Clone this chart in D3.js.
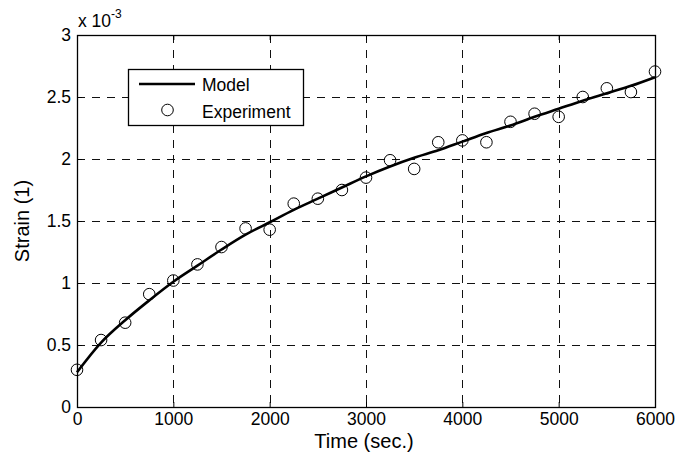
<!DOCTYPE html>
<html>
<head>
<meta charset="utf-8">
<script src="https://cdn.jsdelivr.net/npm/d3@7"></script>
<style>
  html, body { margin: 0; padding: 0; background: #fff; }
  svg { display: block; font-family: "Liberation Sans", Arial, sans-serif; }
</style>
</head>
<body>
<svg id="chart" width="677" height="461"></svg>
<script>
// ---- data (strain in units of 1e-3) ----
const xTicks = [0, 1000, 2000, 3000, 4000, 5000, 6000];
const yTicks = [0, 0.5, 1, 1.5, 2, 2.5, 3];
const yTickLabels = ["0", "0.5", "1", "1.5", "2", "2.5", "3"];

const expTime = [0, 250, 500, 750, 1000, 1250, 1500, 1750, 2000, 2250, 2500, 2750, 3000,
                 3250, 3500, 3750, 4000, 4250, 4500, 4750, 5000, 5250, 5500, 5750, 6000];
const expStrain = [0.30, 0.54, 0.68, 0.91, 1.02, 1.15, 1.29, 1.44, 1.43, 1.64, 1.68, 1.75, 1.85,
                   1.99, 1.92, 2.135, 2.15, 2.135, 2.30, 2.365, 2.34, 2.50, 2.57, 2.54, 2.705];

const modelTime = [0, 250, 500, 750, 1000, 1250, 1500, 1750, 2000, 2250, 2500, 2750, 3000,
                   3250, 3500, 3750, 4000, 4250, 4500, 4750, 5000, 5250, 5500, 5750, 6000];
const modelStrain = [0.28, 0.52, 0.70, 0.86, 1.01, 1.14, 1.27, 1.39, 1.49, 1.59, 1.68, 1.77, 1.86,
                     1.94, 2.01, 2.07, 2.14, 2.21, 2.27, 2.34, 2.405, 2.47, 2.53, 2.59, 2.66];

const seriesNames = ["Model", "Experiment"];

// ---- layout ----
const L = 77, R = 655, T = 35, B = 407;
const svg = d3.select("#chart");
const x = d3.scaleLinear().domain([0, 6000]).range([L, R]);
const y = d3.scaleLinear().domain([0, 3]).range([B, T]);

const tickFont = 17.5;

// grid
const grid = svg.append("g").attr("stroke", "#111").attr("stroke-width", 1)
  .attr("stroke-dasharray", "8,7").attr("shape-rendering", "crispEdges");
grid.selectAll("line.vx").data(xTicks.slice(1, -1)).enter().append("line")
  .attr("x1", d => Math.round(x(d)) + 0.5).attr("x2", d => Math.round(x(d)) + 0.5)
  .attr("y1", T).attr("y2", B);
grid.selectAll("line.hy").data(yTicks.slice(1, -1)).enter().append("line")
  .attr("y1", d => Math.round(y(d)) + 0.5).attr("y2", d => Math.round(y(d)) + 0.5)
  .attr("x1", L).attr("x2", R);

// axes (ticks inward on all four sides)
const tl = 5;
const axB = svg.append("g").attr("transform", `translate(0,${B})`)
  .call(d3.axisBottom(x).tickValues(xTicks).tickSize(-tl).tickPadding(6).tickFormat(d3.format("d")));
const axT = svg.append("g").attr("transform", `translate(0,${T})`)
  .call(d3.axisTop(x).tickValues(xTicks).tickSize(-tl).tickFormat(""));
const axL = svg.append("g").attr("transform", `translate(${L},0)`)
  .call(d3.axisLeft(y).tickValues(yTicks).tickSize(-tl).tickPadding(6).tickFormat((d, i) => yTickLabels[i]));
const axR = svg.append("g").attr("transform", `translate(${R},0)`)
  .call(d3.axisRight(y).tickValues(yTicks).tickSize(-tl).tickFormat(""));
[axB, axT, axL, axR].forEach(a => {
  a.select(".domain").remove();
  a.selectAll("line").attr("stroke", "#000");
  a.selectAll("text").attr("fill", "#000").style("font-size", tickFont + "px")
    .style("font-family", "'Liberation Sans', Arial, sans-serif");
});

// box
svg.append("rect").attr("x", L + 0.5).attr("y", T + 0.5).attr("width", R - L).attr("height", B - T)
  .attr("fill", "none").attr("stroke", "#000").attr("stroke-width", 1.3);

// model line
const line = d3.line().x((d, i) => x(modelTime[i])).y(d => y(d)).curve(d3.curveCatmullRom);
svg.append("path").datum(modelStrain).attr("d", line)
  .attr("fill", "none").attr("stroke", "#000").attr("stroke-width", 2.6);

// experiment circles
svg.append("g").selectAll("circle").data(expStrain).enter().append("circle")
  .attr("cx", (d, i) => x(expTime[i])).attr("cy", d => y(d)).attr("r", 5.8)
  .attr("fill", "none").attr("stroke", "#000").attr("stroke-width", 1);

// exponent label
const ex = svg.append("text").attr("x", 78).attr("y", 27).attr("fill", "#000")
  .style("font-size", "17.5px");
ex.append("tspan").text("x 10");
ex.append("tspan").attr("dy", -9).style("font-size", "12px").text("-3");

// axis labels
svg.append("text").attr("x", 364).attr("y", 448).attr("text-anchor", "middle")
  .attr("fill", "#000").style("font-size", "20px").text("Time (sec.)");
svg.append("text").attr("transform", `translate(29,${(T + B) / 2}) rotate(-90)`)
  .attr("text-anchor", "middle").attr("fill", "#000").style("font-size", "20px").text("Strain (1)");

// legend
const lg = svg.append("g");
lg.append("rect").attr("x", 128.5).attr("y", 69.5).attr("width", 175).attr("height", 56)
  .attr("fill", "#fff").attr("stroke", "#000").attr("stroke-width", 1.3);
lg.append("line").attr("x1", 139).attr("x2", 195).attr("y1", 84).attr("y2", 84)
  .attr("stroke", "#000").attr("stroke-width", 2.6);
lg.append("circle").attr("cx", 167.5).attr("cy", 110).attr("r", 5.8)
  .attr("fill", "none").attr("stroke", "#000").attr("stroke-width", 1);
lg.append("text").attr("x", 202).attr("y", 91).attr("fill", "#000").style("font-size", "17.5px").text(seriesNames[0]);
lg.append("text").attr("x", 202).attr("y", 118).attr("fill", "#000").style("font-size", "17.5px").text(seriesNames[1]);
</script>
</body>
</html>
